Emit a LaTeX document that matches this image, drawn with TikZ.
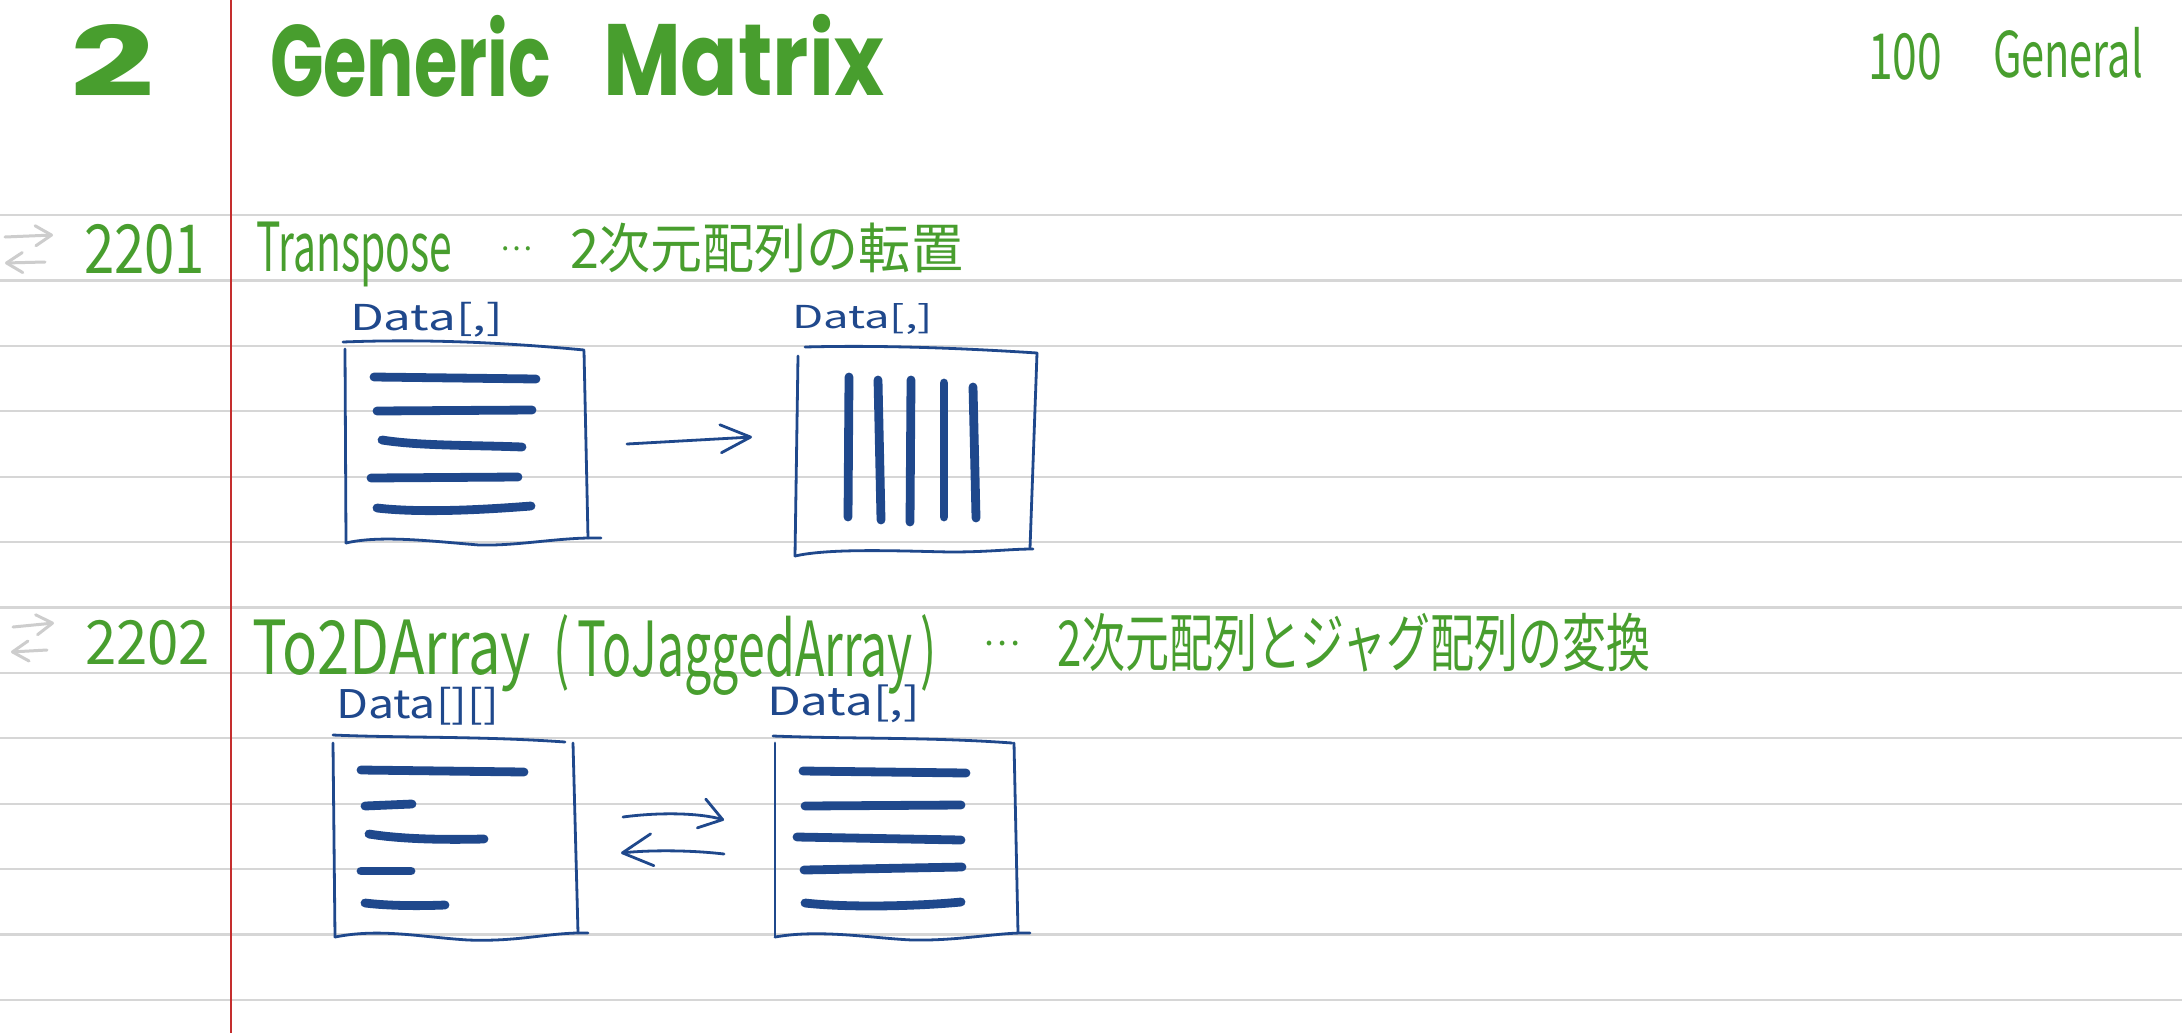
\documentclass[tikz,border=0pt]{standalone}
\usepackage{fontspec}
\usepackage{graphicx}
\newfontfamily\titlefont{Poppins}
\newfontfamily\hand{Noto Sans CJK JP}
\usetikzlibrary{arrows.meta}
\definecolor{ink}{RGB}{31,72,140}
\definecolor{leaf}{RGB}{72,158,46}
\definecolor{rulegray}{RGB}{214,214,214}
\definecolor{marginred}{RGB}{196,46,46}
\definecolor{icongray}{RGB}{205,205,205}
\tikzset{
  rule/.style={draw=rulegray, line width=1.1pt},
  margin/.style={draw=marginred, line width=1pt},
  frame/.style={draw=ink, line width=1.4pt, line cap=round, line join=round},
  bar/.style={draw=ink, line width=4.4pt, line cap=round},
  conn/.style={draw=ink, line width=1.4pt, line cap=round},
  icon/.style={draw=icongray, line width=1.5pt, line cap=round},
  txt/.style={inner sep=0pt, outer sep=0pt, anchor=south west},
  dots/.style={inner sep=0pt, outer sep=0pt, anchor=west},
}
\begin{document}
\begin{tikzpicture}[x=0.5pt, y=-0.5pt]
\fill[white] (0,0) rectangle (2182,1033);
\useasboundingbox (0,0) rectangle (2182,1033);
% ruled paper
\foreach \k in {0,...,12} \draw[rule] (0,{215+65.4*\k}) -- (2182,{215+65.4*\k});
\draw[margin] (231,0) -- (231,1033);

% header
\node[txt, text=leaf] (num) at (70,96) {\resizebox*{42pt}{36pt}{\titlefont\bfseries 2}};
\node[txt, text=leaf] (title1) at (270,97) {\resizebox*{140.5pt}{41pt}{\titlefont\bfseries Generic}};
\node[txt, text=leaf] (title2) at (603,96) {\resizebox*{140.5pt}{41pt}{\titlefont\bfseries Matrix}};
\node[txt, text=leaf] (catnum) at (1868,80) {\resizebox*{37pt}{23.5pt}{\hand 100}};
\node[txt, text=leaf] (catname) at (1993,78) {\resizebox*{75pt}{25.5pt}{\hand General}};

% row 1
\draw[icon, -{Straight Barb[length=8pt,width=10pt,round]}] (5,237) -- (53,235);
\draw[icon, -{Straight Barb[length=8pt,width=10pt,round]}] (45,262) -- (5,263);
\node[txt, text=leaf] (id1) at (84,274) {\resizebox*{60.5pt}{25pt}{\hand 2201}};
\node[txt, text=leaf] (name1) at (256,287) {\resizebox*{98pt}{32.5pt}{\hand Transpose}};
\node[dots, text=leaf] (dots1) at (500,249) {\resizebox{16pt}{!}{\hand …}};
\node[txt, text=leaf] (desc1) at (570,273) {\resizebox*{196.5pt}{25pt}{\hand 2次元配列の転置}};

% row 2
\draw[icon, -{Straight Barb[length=8pt,width=10pt,round]}] (13,627) -- (54,623);
\draw[icon, -{Straight Barb[length=8pt,width=10pt,round]}] (47,650) -- (11,652);
\node[txt, text=leaf] (id2) at (85,665) {\resizebox*{62.5pt}{22.5pt}{\hand 2202}};
\node[txt, text=leaf] (name2) at (252,692) {\resizebox*{139.5pt}{36pt}{\hand To2DArray}};
\node[txt, text=leaf] (name2b) at (553,695) {\resizebox*{192pt}{40.5pt}{\hand (\,ToJaggedArray\,)}};
\node[dots, text=leaf] (dots2) at (983,644) {\resizebox{18.5pt}{!}{\hand …}};
\node[txt, text=leaf] (desc2) at (1057,672) {\resizebox*{296.5pt}{29.5pt}{\hand 2次元配列とジャグ配列の変換}};

% labels
\node[txt, text=ink] (lab1) at (350,337) {\resizebox*{76.5pt}{17.5pt}{\hand Data[,]}};
\node[txt, text=ink] (lab2) at (792,334) {\resizebox*{70.5pt}{15.5pt}{\hand Data[,]}};
\node[txt, text=ink] (lab3) at (336,725) {\resizebox*{81.5pt}{19pt}{\hand Data[][]}};
\node[txt, text=ink] (lab4) at (767,723) {\resizebox*{76.5pt}{19pt}{\hand Data[,]}};

% box 1
\draw[frame] (343,342) .. controls (420,339) and (500,342) .. (584,350);
\draw[frame] (345,349) -- (346,543);
\draw[frame] (584,351) -- (588,538);
\draw[frame] (346,543) .. controls (380,535) and (430,541) .. (479,545) .. controls (520,546) and (560,537) .. (601,538);
\draw[bar] (374,377) -- (536,379);
\draw[bar] (377,411) -- (532,410);
\draw[bar] (382,440) .. controls (420,446) and (470,445) .. (522,447);
\draw[bar] (371,478) -- (518,477);
\draw[bar] (377,508) .. controls (420,513) and (480,510) .. (531,506);

% box 2
\draw[frame] (805,347) .. controls (880,345) and (960,348) .. (1037,353);
\draw[frame] (798,356) -- (795,556);
\draw[frame] (1037,353) -- (1030,548);
\draw[frame] (795,556) .. controls (830,548) and (900,551) .. (950,552) .. controls (990,552) and (1010,549) .. (1033,549);
\draw[bar] (849,377) -- (848,517);
\draw[bar] (878,380) -- (881,520);
\draw[bar] (911,380) -- (910,522);
\draw[bar] (944,383) -- (944,517);
\draw[bar] (973,387) -- (976,518);

% arrow 1
\coordinate (a1s) at (627,444);
\coordinate (a1e) at (752,437);
\draw[conn, -{Straight Barb[length=15pt,width=14pt,round]}] (a1s) -- (a1e);

% box 3
\draw[frame] (333,735) .. controls (400,738) and (480,736) .. (565,742);
\draw[frame] (333,743) -- (335,937);
\draw[frame] (573,743) -- (578,933);
\draw[frame] (335,937) .. controls (380,928) and (420,937) .. (468,940) .. controls (520,942) and (550,932) .. (588,933);
\draw[bar] (361,770) -- (524,772);
\draw[bar] (365,806) -- (412,804);
\draw[bar] (369,834) .. controls (400,839) and (440,840) .. (484,839);
\draw[bar] (361,871) -- (411,871);
\draw[bar] (365,903) .. controls (390,906) and (420,906) .. (445,905);

% box 4
\draw[frame] (773,736) .. controls (850,739) and (930,737) .. (1012,743);
\draw[frame] (775,743) -- (775,937);
\draw[frame] (1014,743) -- (1018,933);
\draw[frame] (775,937) .. controls (820,929) and (870,938) .. (912,940) .. controls (960,941) and (1000,932) .. (1030,933);
\draw[bar] (803,771) -- (966,773);
\draw[bar] (805,806) -- (961,805);
\draw[bar] (797,837) -- (961,840);
\draw[bar] (804,870) -- (962,867);
\draw[bar] (805,903) .. controls (850,908) and (920,906) .. (961,902);

% arrows 2
\coordinate (a2s) at (623,817);
\coordinate (a2e) at (724,820);
\coordinate (a3s) at (724,854);
\coordinate (a3e) at (621,853);
\draw[conn, -{Straight Barb[length=11pt,width=15pt,round]}] (a2s) .. controls (660,812) and (700,813) .. (a2e);
\draw[conn, -{Straight Barb[length=15pt,width=16pt,round]}] (a3s) .. controls (690,850) and (650,850) .. (a3e);
\end{tikzpicture}
\end{document}
